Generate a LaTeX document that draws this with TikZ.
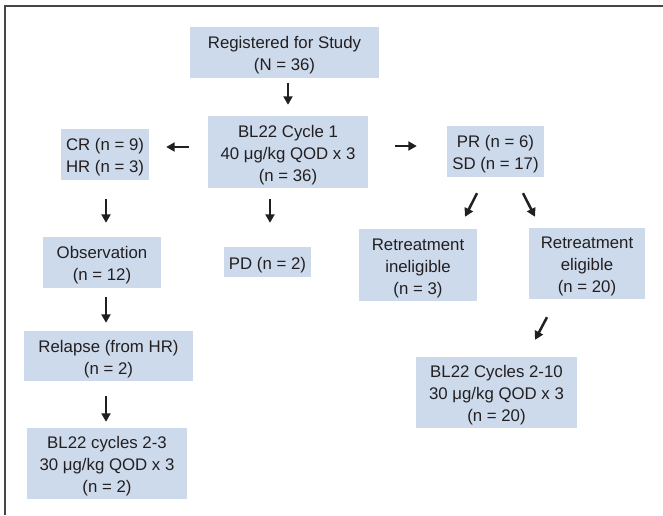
\documentclass[tikz,border=0pt]{standalone}
\usepackage{fontspec}
\setmainfont{Liberation Sans}
\usetikzlibrary{arrows.meta}
\definecolor{boxfill}{RGB}{204,218,236}
\definecolor{ink}{RGB}{35,31,32}
\definecolor{framec}{RGB}{70,70,70}
\newcommand\topstrutx{\rule{0pt}{18pt}}
\tikzset{
  box/.style={fill=boxfill, draw=none, inner sep=0pt, align=center, text=ink,
    font=\fontsize{16.8}{22}\selectfont},
  arr/.style={draw=ink, line width=2.5pt,
    -{Triangle[length=8.5pt,width=9pt]}},
  frameline/.style={draw=framec, line width=1.5pt}
}
\begin{document}
\begin{tikzpicture}[x=1pt, y=-1pt]
\useasboundingbox (0,0) rectangle (663,515);
\draw[frameline] (5,515) coordinate (fb) -- (5,6) coordinate (fc) -- (663,6) coordinate (fr);

\node[box, minimum width=189pt, minimum height=51pt] (reg) at (284.5,52) {\topstrutx Registered for Study\\(N = 36)};
\node[box, minimum width=160pt, minimum height=72pt] (cyc1) at (288,152) {\topstrutx BL22 Cycle 1\\40 μg/kg QOD x 3\\(n = 36)};
\node[box, minimum width=88pt, minimum height=51pt] (cr) at (105,154.5) {\topstrutx CR (n = 9)\\HR (n = 3)};
\node[box, minimum width=97pt, minimum height=51pt] (pr) at (495.5,151.5) {\topstrutx PR (n = 6)\\SD (n = 17)};
\node[box, minimum width=87pt, minimum height=30pt] (pd) at (267.5,262) {\topstrutx PD (n = 2)};
\node[box, minimum width=118pt, minimum height=51pt] (obs) at (102,262.5) {\topstrutx Observation\\(n = 12)};
\node[box, minimum width=118pt, minimum height=72pt] (inel) at (418,265) {\topstrutx Retreatment\\ineligible\\(n = 3)};
\node[box, minimum width=116pt, minimum height=71pt] (elig) at (587,263.5) {\topstrutx Retreatment\\eligible\\(n = 20)};
\node[box, minimum width=169pt, minimum height=50pt] (rel) at (108.5,356) {\topstrutx Relapse (from HR)\\(n = 2)};
\node[box, minimum width=160pt, minimum height=71pt] (c23) at (107,463.5) {\topstrutx BL22 cycles 2-3\\30 μg/kg QOD x 3\\(n = 2)};
\node[box, minimum width=161pt, minimum height=71pt] (c210) at (496.5,392.5) {\topstrutx BL22 Cycles 2-10\\30 μg/kg QOD x 3\\(n = 20)};

\draw[arr, shorten <=5pt, shorten >=11pt] (cyc1.north |- reg.south) -- (cyc1.north);
\draw[arr, shorten <=11pt, shorten >=24pt] ([shift={(-18,0)}]cyc1.south) -- ([shift={(2.5,0)}]pd.north);
\draw[arr, shorten <=19pt, shorten >=14pt] ([shift={(1,0)}]cr.south) -- ([shift={(4,0)}]obs.north);
\draw[arr, shorten <=9pt, shorten >=8pt] ([shift={(4,0)}]obs.south) -- ([shift={(-2.5,0)}]rel.north);
\draw[arr, shorten <=15pt, shorten >=6pt] ([shift={(-2.5,0)}]rel.south) -- ([shift={(-1,0)}]c23.north);
\draw[arr, shorten <=19pt, shorten >=17pt] ([shift={(0,-5)}]cyc1.west) -- ([shift={(0,-7.5)}]cr.east);
\draw[arr, shorten <=27pt, shorten >=30pt] ([shift={(0,-6)}]cyc1.east) -- ([shift={(0,-5.5)}]pr.west);
\draw[arr] ([shift={(-18.5,16)}]pr.south) -- ([shift={(47,-12)}]inel.north);
\draw[arr] ([shift={(27.5,16)}]pr.south) -- ([shift={(-52,-11)}]elig.north);
\draw[arr] ([shift={(-40,18)}]elig.south) -- ([shift={(38.5,-17)}]c210.north);
\end{tikzpicture}
\end{document}
